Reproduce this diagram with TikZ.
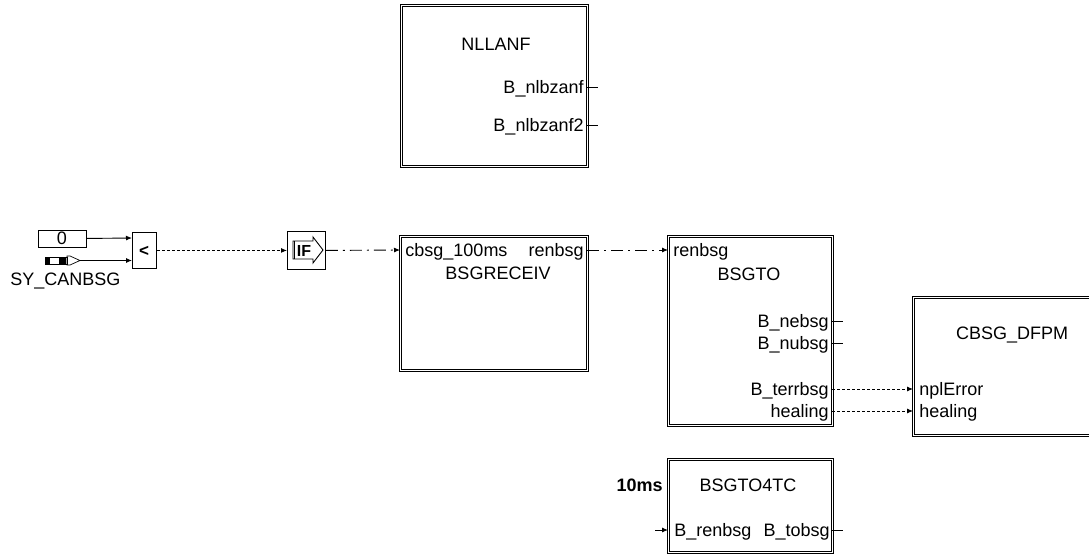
\documentclass[tikz,border=0pt]{standalone}
\usepackage{fontspec}
\setmainfont{Liberation Sans}
\usetikzlibrary{arrows.meta}
\begin{document}
\begin{tikzpicture}[x=1pt,y=-1pt,line width=0.9pt,
  every node/.style={inner sep=0pt,font=\fontsize{18}{21}\selectfont},
  blk/.style={draw,double,double distance=1.4pt,line width=0.8pt,inner sep=0pt,anchor=north west},
  sbox/.style={draw,line width=0.9pt,inner sep=0pt,anchor=north west},
  rl/.style={anchor=base east},
  ll/.style={anchor=base west},
  cl/.style={anchor=base},
  arr/.style={-{Latex[length=6pt,width=5pt]}},
  dotl/.style={dash pattern=on 3pt off 2pt},
  dashdotl/.style={dash pattern=on 12pt off 5pt on 2pt off 5pt}]
\useasboundingbox (0,0) rectangle (1089,554);

% NLLANF
\node[blk,minimum width=186pt,minimum height=161pt] (nllanf) at (401,5) {};
\node[cl] (tnllanf) at (496,50) {NLLANF};
\node[rl] (tnl1) at (584,93) {B\_nlbzanf};
\node[rl] (tnl2) at (584,131) {B\_nlbzanf2};
\coordinate (pnl1) at (587,87); \coordinate (enl1) at (598,87);
\coordinate (pnl2) at (587,125); \coordinate (enl2) at (598,125);
\draw (pnl1) -- (enl1);
\draw (pnl2) -- (enl2);

% constant 0
\node[sbox,minimum width=48pt,minimum height=17pt] (c0) at (38,229.5) {};
\node[cl] (t0) at (62,244) {0};
% SY_CANBSG symbol
\fill[black] (45,257) rectangle (50,264);
\draw[line width=0.7pt] (45,257) rectangle (67,264);
\fill[black] (59,257.5) rectangle (66,263.5);
\draw[line width=0.7pt] (67,256) -- (70,256) -- (80,260.5) -- (70,265) -- (67,265) -- cycle;
\coordinate (syout) at (80,260.5);
\node[ll] (tsy) at (10,285) {SY\_CANBSG};

% compare
\node[sbox,minimum width=24pt,minimum height=36pt] (cmp) at (132,232) {};
\node[cl,font=\fontsize{17}{20}\selectfont\bfseries] (tcmp) at (144,256) {<};
\coordinate (cmpin1) at (132,238);
\coordinate (cmpin2) at (132,260.5);
\draw[arr] (c0.east) -- (cmpin1);
\draw[arr] (syout) -- (cmpin2);

% IF block
\node[sbox,minimum width=38pt,minimum height=38pt] (ifb) at (287,231) {};
\draw[line width=0.9pt] (293,241) -- (313,241) -- (313,237) -- (323,250) -- (313,263) -- (313,259) -- (293,259) -- cycle;
\draw[line width=1.6pt] (294.5,241) -- (294.5,259);
\node[cl,font=\fontsize{16}{18}\selectfont\bfseries] (tif) at (304,256) {IF};
\draw[arr,dotl] (cmp.east) -- (ifb.west);

% BSGRECEIV
\node[blk,minimum width=187pt,minimum height=134pt] (bsgr) at (400,236) {};
\node[ll] (tbr1) at (405,256) {cbsg\_100ms};
\node[rl] (tbr2) at (584,256) {renbsg};
\node[cl] (tbr) at (498,279) {BSGRECEIV};
\coordinate (bsgrin) at (400,250);
\coordinate (bsgrout) at (587,250);
\draw[arr,dashdotl] (ifb.east) -- (bsgrin);

% BSGTO
\node[blk,minimum width=164pt,minimum height=189pt] (bsgto) at (668,236) {};
\node[ll] (tbt1) at (673,256) {renbsg};
\node[cl] (tbt) at (749,280) {BSGTO};
\node[rl] (tbt2) at (829,327) {B\_nebsg};
\node[rl] (tbt3) at (829,349) {B\_nubsg};
\node[rl] (tbt4) at (829,395) {B\_terrbsg};
\node[rl] (tbt5) at (829,417) {healing};
\coordinate (bsgtoin) at (668,250);
\draw[arr,dashdotl] (bsgrout) -- (bsgtoin);
\coordinate (pbt2) at (832,321); \coordinate (ebt2) at (843,321);
\coordinate (pbt3) at (832,343); \coordinate (ebt3) at (843,343);
\coordinate (pbt4) at (832,389);
\coordinate (pbt5) at (832,411);
\draw (pbt2) -- (ebt2);
\draw (pbt3) -- (ebt3);

% CBSG_DFPM
\node[blk,minimum width=200pt,minimum height=138pt] (cbsg) at (913,297) {};
\node[cl] (tcb) at (1012,339) {CBSG\_DFPM};
\node[ll] (tcb1) at (919,395) {nplError};
\node[ll] (tcb2) at (919,417) {healing};
\coordinate (cbin1) at (913,389);
\coordinate (cbin2) at (913,411);
\draw[arr,dotl] (pbt4) -- (cbin1);
\draw[arr,dotl] (pbt5) -- (cbin2);

% BSGTO4TC
\node[blk,minimum width=164pt,minimum height=93pt] (bto4) at (668,459) {};
\node[anchor=base east,font=\fontsize{18}{21}\selectfont\bfseries] (t10ms) at (663,491) {10ms};
\node[cl] (tbto4) at (748,491) {BSGTO4TC};
\node[ll] (tb41) at (674,536) {B\_renbsg};
\node[rl] (tb42) at (830,536) {B\_tobsg};
\coordinate (b4src) at (655,530);
\coordinate (b4in) at (668,530);
\coordinate (b4out) at (832,530);
\coordinate (b4end) at (843,530);
\draw[arr] (b4src) -- (b4in);
\draw (b4out) -- (b4end);
\end{tikzpicture}
\end{document}
